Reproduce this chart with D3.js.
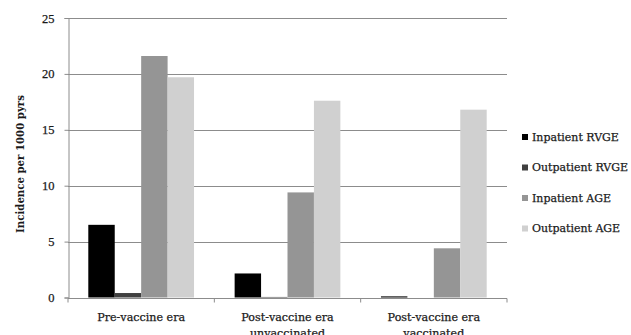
<!DOCTYPE html>
<html><head><meta charset="utf-8">
<script src="https://cdn.jsdelivr.net/npm/d3@7/dist/d3.min.js"></script>
<style>body{margin:0;background:#fff;} svg{display:block;}</style>
</head><body><svg id="c" width="631" height="335"></svg>
<script>
const categories = [["Pre-vaccine era"], ["Post-vaccine era", "unvaccinated"], ["Post-vaccine era", "vaccinated"]];
const seriesNames = ["Inpatient RVGE", "Outpatient RVGE", "Inpatient AGE", "Outpatient AGE"];
const seriesColors = ["#000000", "#404040", "#959595", "#d0d0d0"];
const inpatientRVGE = [6.5, 2.15, 0.1];
const outpatientRVGE = [0.4, 0.05, 0];
const inpatientAGE = [21.6, 9.4, 4.4];
const outpatientAGE = [19.7, 17.6, 16.8];
const yTicks = [0, 5, 10, 15, 20, 25];

const values = [inpatientRVGE, outpatientRVGE, inpatientAGE, outpatientAGE];
const svg = d3.select("#c");
const font = "'DejaVu Serif', serif";
const tickFont = "'Liberation Serif', serif";
const textColor = "#1a1a1a";
const mLeft = 68, mRight = 507, mTop = 18, mBottom = 297.5;

// fit a text element's font-size so its width matches a target width
function fit(sel, target) {
  const base = +sel.attr("font-size");
  const w = sel.node().getComputedTextLength();
  if (w > 0) sel.attr("font-size", (base * target / w).toFixed(2));
  return sel;
}

const x0 = d3.scaleBand().domain(d3.range(categories.length)).range([mLeft, mRight]).padding(0);
const x1 = d3.scaleBand().domain(d3.range(seriesNames.length)).range([20.3, x0.bandwidth() - 20.3]).padding(0);
const y = d3.scaleLinear().domain([0, 25]).range([mBottom, mTop]);

// gridlines
svg.append("g").selectAll("line").data(yTicks.filter(t => t > 0)).join("line")
  .attr("x1", mLeft).attr("x2", mRight)
  .attr("y1", d => Math.round(y(d)) + 0.5).attr("y2", d => Math.round(y(d)) + 0.5)
  .attr("stroke", "#8c8c8c").attr("stroke-width", 1.2);

// bars
const g = svg.append("g");
categories.forEach((c, ci) => {
  seriesNames.forEach((s, si) => {
    const v = values[si][ci];
    g.append("rect")
      .attr("x", x0(ci) + x1(si))
      .attr("width", x1.bandwidth())
      .attr("y", y(v))
      .attr("height", y(0) - y(v))
      .attr("fill", seriesColors[si]);
  });
});

// y axis
const yAxis = d3.axisLeft(y).tickValues(yTicks).tickSize(4).tickPadding(10).tickFormat(d3.format("d"));
const ya = svg.append("g").attr("transform", `translate(${mLeft + 0.5},0)`).call(yAxis);
ya.select(".domain").attr("stroke", "#8c8c8c");
ya.selectAll(".tick line").attr("stroke", "#8c8c8c");
ya.selectAll("text").attr("font-family", tickFont).attr("font-size", 12.5).attr("fill", textColor)
  .attr("stroke", textColor).attr("stroke-width", 0.25);

// x axis
const xa = svg.append("g").attr("transform", `translate(0,${Math.round(mBottom) + 0.5})`);
xa.append("line").attr("x1", mLeft).attr("x2", mRight).attr("stroke", "#8c8c8c");
xa.selectAll(".tk").data(d3.range(categories.length + 1)).join("line")
  .attr("x1", d => mLeft + d * x0.step()).attr("x2", d => mLeft + d * x0.step())
  .attr("y1", 0).attr("y2", 4).attr("stroke", "#8c8c8c");
const probe = svg.append("text").attr("font-family", font).attr("font-size", 12).text(categories[0][0]);
fit(probe, 88);
const catSize = +probe.attr("font-size");
probe.remove();
categories.forEach((c, ci) => {
  const t = xa.append("text").attr("x", x0(ci) + x0.bandwidth() / 2).attr("y", 22)
    .attr("text-anchor", "middle").attr("font-family", font).attr("font-size", catSize).attr("fill", textColor)
    .attr("stroke", textColor).attr("stroke-width", 0.25);
  c.forEach((line, li) => t.append("tspan").attr("x", x0(ci) + x0.bandwidth() / 2).attr("dy", li === 0 ? 0 : 16).text(line));
});

// y label
const yl = svg.append("text").attr("transform", "translate(24,164) rotate(-90)")
  .attr("text-anchor", "middle").attr("font-family", font).attr("font-weight", "bold")
  .attr("font-size", 12).attr("fill", textColor).text("Incidence per 1000 pyrs");
fit(yl, 138);

// legend
const lg = svg.append("g");
let legSize = null;
seriesNames.forEach((s, i) => {
  const ly = 140.5 + i * 30.5;
  lg.append("rect").attr("x", 522).attr("y", ly - 6.5).attr("width", 6).attr("height", 6).attr("fill", seriesColors[i]);
  const t = lg.append("text").attr("x", 532).attr("y", ly).attr("font-family", font)
    .attr("font-size", 12).attr("fill", textColor).attr("stroke", textColor).attr("stroke-width", 0.25).text(s);
  if (i === 0) { fit(t, 87); legSize = t.attr("font-size"); }
  else t.attr("font-size", legSize);
});
</script></body></html>
